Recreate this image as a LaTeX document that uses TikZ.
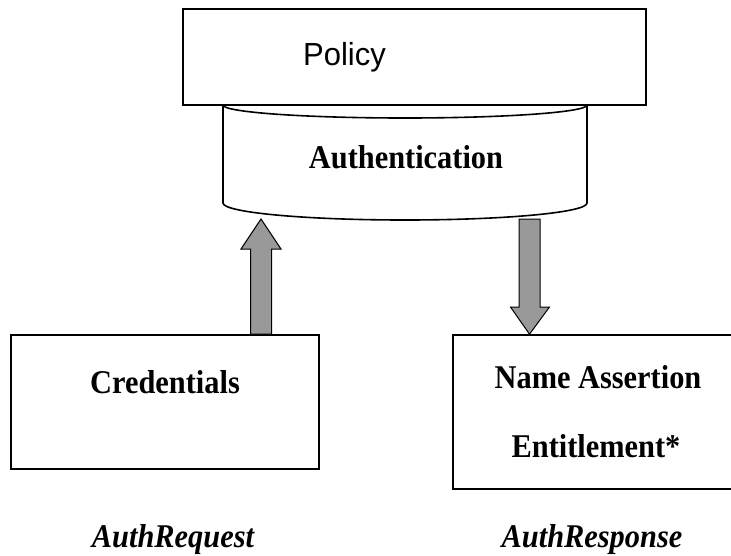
\documentclass[tikz,border=0pt]{standalone}
\usepackage{graphicx}
\usepackage{fontspec}
\setmainfont{Liberation Serif}
\newfontfamily\arialfont{Liberation Sans}
\newcommand\tallertext[1]{\scalebox{0.98}[1.07]{#1}}
\begin{document}
\begin{tikzpicture}[x=1pt,y=-1pt,
  frame/.style={draw=black, line width=1.6pt, fill=white, rectangle, inner sep=0pt},
  boldlabel/.style={anchor=base, inner sep=0pt, font=\fontsize{31}{36}\selectfont\bfseries},
  itlabel/.style={anchor=base, inner sep=0pt, font=\fontsize{31}{36}\selectfont\bfseries\itshape},
  blockarrow/.style={draw=black, line width=1pt, fill=black!40, line join=miter}]
\useasboundingbox (0,0) rectangle (731,555);

% authentication cylinder (drawn first, the policy slab sits over its top)
\coordinate (cylTL) at (223,105);
\coordinate (cylTR) at (587,105);
\coordinate (cylBL) at (223,203);
\coordinate (cylBR) at (587,203);
\filldraw[fill=white, draw=black, line width=1.6pt]
  (cylTL) -- (cylBL)
  .. controls (223,212.4) and (304.5,220) .. (405,220)
  .. controls (505.5,220) and (587,212.4) .. (cylBR) -- (cylTR);
\draw[line width=1.6pt] (cylTL)
  .. controls (223,112.2) and (304.5,118) .. (405,118)
  .. controls (505.5,118) and (587,112.2) .. (cylTR);

% boxes
\node[frame, minimum width=463pt, minimum height=96pt] (policy) at (414.5,57) {};
\node[frame, minimum width=308pt, minimum height=134pt] (cred) at (165,402) {};
\node[frame, minimum width=284pt, minimum height=154pt] (resp) at (595,412) {};

% labels
\node[anchor=base west, inner sep=0pt, font=\fontsize{31}{36}\selectfont\arialfont] (policytxt) at (303,65) {\scalebox{1}[1.03]{Policy}};
\node[boldlabel] (authtxt) at (406,168) {\tallertext{Authentication}};
\node[boldlabel] (credtxt) at (165,393) {\tallertext{Credentials}};
\node[boldlabel] (nametxt) at (598,388) {\tallertext{Name Assertion}};
\node[boldlabel] (entltxt) at (596,457) {\tallertext{Entitlement*}};
\node[itlabel] (reqtxt) at (173,547) {\tallertext{AuthRequest}};
\node[itlabel] (resptxt) at (592,547) {\tallertext{AuthResponse}};

% request arrow: credentials up to authentication
\coordinate (upbase) at (cred.north -| 261,0);
\coordinate (uptip) at (261,219);
\draw[blockarrow] ([xshift=-10.5pt]upbase) -- ([xshift=-10.5pt]upbase |- 0,249)
  -- (241,249) -- (uptip) -- (281,249)
  -- ([xshift=10.5pt]upbase |- 0,249) -- ([xshift=10.5pt]upbase) -- cycle;

% response arrow: authentication down to the response box
\coordinate (dntip) at (resp.north -| 529.5,0);
\coordinate (dntop) at (529.5,219);
\draw[blockarrow] ([xshift=-10.5pt]dntop) -- ([xshift=-10.5pt]dntop |- 0,307)
  -- (510.5,307) -- (dntip) -- (549.5,307)
  -- ([xshift=10.5pt]dntop |- 0,307) -- ([xshift=10.5pt]dntop) -- cycle;
\end{tikzpicture}
\end{document}
